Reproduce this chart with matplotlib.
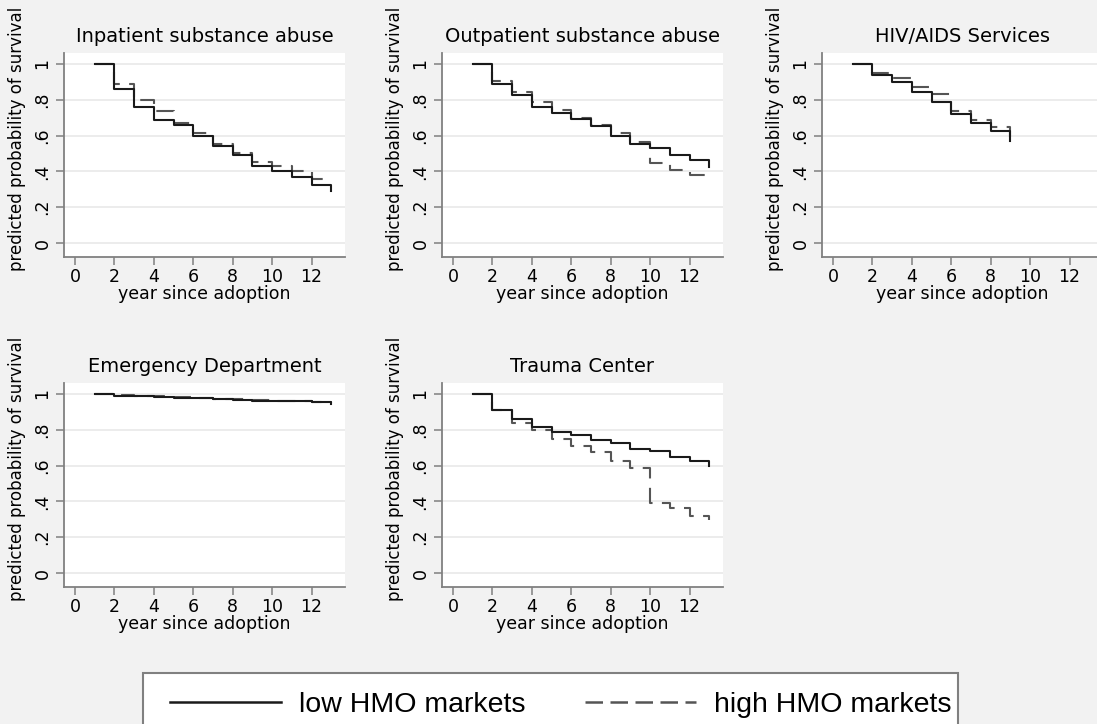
import numpy as np
import matplotlib
matplotlib.use('Agg')
import matplotlib.pyplot as plt
from matplotlib.lines import Line2D
from matplotlib.patches import Rectangle

plt.rcParams.update({'font.family': ['DejaVu Sans']})

# ── dados (leitura do grafico) ────────────────────────────────────────────────
titulos = ['Inpatient substance abuse', 'Outpatient substance abuse', 'HIV/AIDS Services',
           'Emergency Department', 'Trauma Center']

anos_13 = list(range(1, 14))
anos_9 = list(range(1, 10))

inpat_low  = [1.0, .86, .76, .687, .66, .60, .54, .49, .43, .40, .367, .324, .29]
inpat_high = [1.0, .886, .80, .735, .67, .615, .553, .505, .45, .43, .40, .36, .355]

outpat_low  = [1.0, .89, .827, .76, .728, .695, .654, .60, .553, .53, .49, .464, .426]
outpat_high = [1.0, .905, .843, .786, .743, .70, .657, .613, .563, .447, .41, .38, .37]

hiv_low  = [1.0, .94, .898, .842, .79, .72, .67, .627, .57]
hiv_high = [1.0, .95, .92, .87, .83, .737, .687, .65, .59]

emerg_low  = [1.0, .99, .99, .985, .98, .976, .972, .967, .963, .962, .96, .955, .946]
emerg_high = [1.0, .995, .99, .987, .983, .978, .973, .969, .966, .963, .961, .957, .95]

trauma_low  = [1.0, .91, .858, .814, .79, .769, .743, .728, .695, .68, .65, .624, .60]
trauma_high = [1.0, .91, .836, .80, .75, .71, .676, .627, .585, .393, .365, .318, .296]

series = [
    (anos_13, inpat_low, inpat_high),
    (anos_13, outpat_low, outpat_high),
    (anos_9, hiv_low, hiv_high),
    (anos_13, emerg_low, emerg_high),
    (anos_13, trauma_low, trauma_high),
]

yticks = [0, .2, .4, .6, .8, 1]
ylabels = ['0', '.2', '.4', '.6', '.8', '1']
xticks = [0, 2, 4, 6, 8, 10, 12]

BG = '#f2f2f2'
COR_LOW = '#1a1a1a'
COR_HIGH = '#555555'
W, H = 1097, 724

fig = plt.figure(figsize=(W / 100, H / 100), dpi=100, facecolor=BG)

# posicoes em pixels (esq, topo)
posicoes = [(64, 53), (442, 53), (822, 53), (64, 383), (442, 383)]
aw, ah = 281, 204

for (x0, y0), titulo, (anos, low, high) in zip(posicoes, titulos, series):
    ax = fig.add_axes([x0 / W, (H - y0 - ah) / H, aw / W, ah / H])
    ax.set_facecolor('white')
    for y in yticks:
        ax.axhline(y, color='#eaeaea', lw=1.3, zorder=0)
    ax.step(anos, low, where='post', color=COR_LOW, lw=1.5, zorder=3)
    ax.step(anos, high, where='post', color=COR_HIGH, lw=1.5, dashes=(8.5, 4.5), zorder=2)
    ax.set_xlim(-0.56, 13.7)
    ax.set_ylim(-0.078, 1.061)
    ax.set_xticks(xticks)
    ax.set_yticks(yticks)
    ax.set_yticklabels(ylabels, rotation=90, va='center')
    ax.tick_params(colors='#808080', labelcolor='black', labelsize=12.5,
                   length=6, width=1.1, pad=3)
    ax.tick_params(axis='x', pad=2)
    for s in ['top', 'right']:
        ax.spines[s].set_visible(False)
    for s in ['left', 'bottom']:
        ax.spines[s].set_color('#808080')
        ax.spines[s].set_linewidth(1.3)
    ax.set_title(titulo, fontsize=14, pad=8)
    ax.set_xlabel('year since adoption', fontsize=12.5, labelpad=-1)
    ax.set_ylabel('predicted probability of survival', fontsize=12)
    ax.yaxis.set_label_coords(-0.135, 0.58)

# legenda
fig.patches.append(Rectangle((143 / W, -20 / H), 815 / W, (H - 673 + 20) / H,
                             transform=fig.transFigure, facecolor='white',
                             edgecolor='#808080', lw=1.5))
handles = [Line2D([], [], color=COR_LOW, lw=1.8),
           Line2D([], [], color=COR_HIGH, lw=1.8, dashes=(7, 3))]
fig.legend(handles, ['low HMO markets', 'high HMO markets'], ncol=2, frameon=False,
           loc='center left', bbox_to_anchor=(156 / W, (H - 705) / H),
           borderpad=0, handlelength=3.9, handletextpad=0.63, columnspacing=2.07,
           prop={'family': ['Liberation Sans', 'DejaVu Sans'], 'size': 20.5})

fig.savefig('out.png', dpi=100, facecolor=BG)
